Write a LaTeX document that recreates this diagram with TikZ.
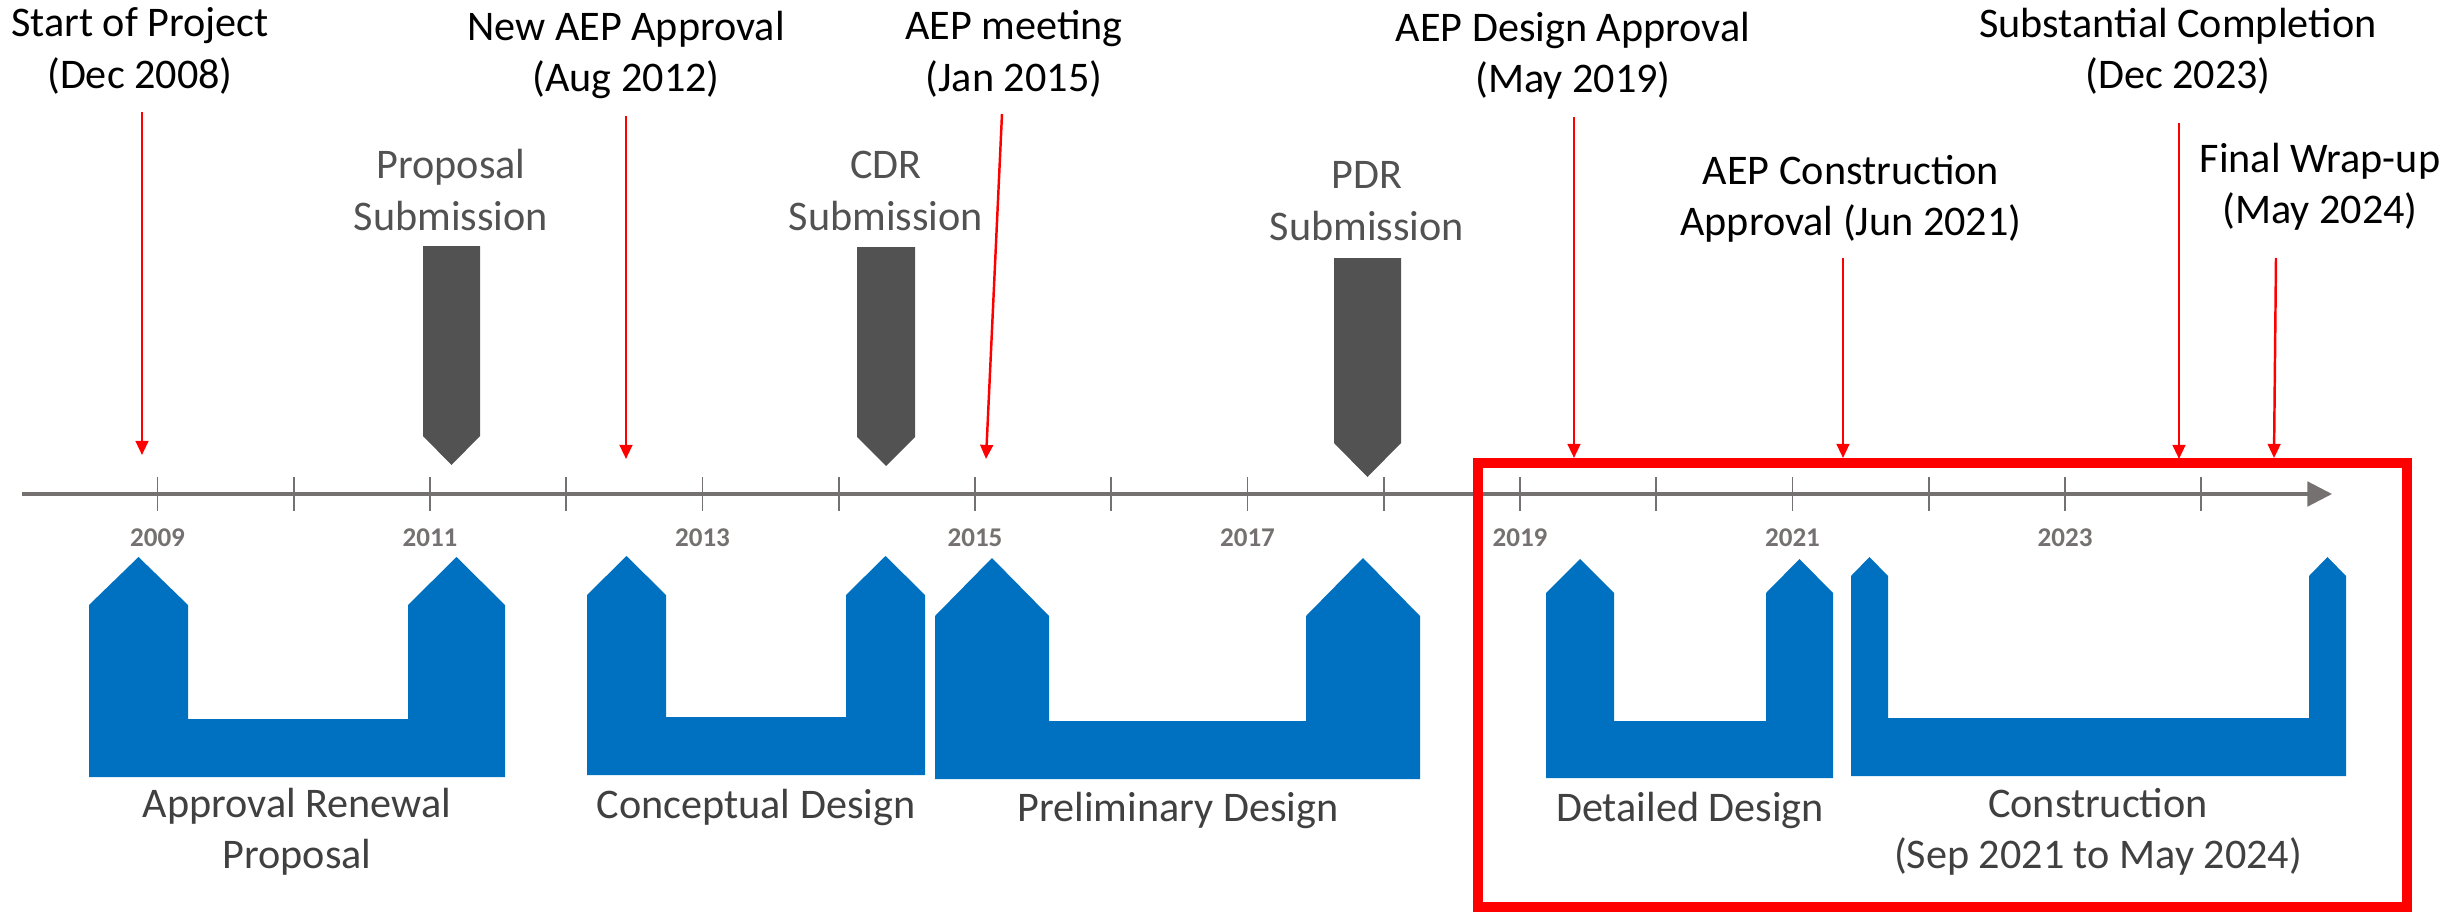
\documentclass[tikz,border=0pt]{standalone}
\usepackage{fontspec}
\setmainfont{Carlito}
\usetikzlibrary{arrows.meta,positioning}

\definecolor{tlblue}{HTML}{0070C0}
\definecolor{tlgray}{HTML}{767171}
\definecolor{msgray}{HTML}{525252}
\definecolor{lblgray}{HTML}{404040}

\begin{document}
\begin{tikzpicture}[x=0.01cm, y=-0.01cm,
  event/.style={align=center, font=\fontsize{12pt}{14.6pt}\selectfont, inner sep=0pt},
  submit/.style={event, text=msgray},
  phase/.style={event, text=lblgray},
  year/.style={font=\fontsize{7.7pt}{9pt}\selectfont\bfseries, text=tlgray, inner sep=0pt},
  redarrow/.style={red, line width=0.7pt, -{Triangle[length=4pt, width=3.6pt]}}]
\useasboundingbox (0,0) rectangle (2453,912);

% time axis
\coordinate (t0) at (22,494);
\coordinate (t1) at (2332,494);
\draw[tlgray, line width=0.9pt, -{Triangle[length=7pt, width=7pt]}] (t0) -- (t1);
\foreach \i in {0,...,15}
  \draw[tlgray, line width=0.5pt] ({157.5+136.25*\i},477) -- ({157.5+136.25*\i},511);
\foreach \yr in {2009,2011,...,2023}
  \node[year] (y\yr) at ({157.5+136.25*(\yr-2009)},538) {\yr};

% submissions
\foreach \xa/\xb/\ytop/\ybody/\ytip in {423/480/246/436/465, 857/915/247/437/466, 1334/1401/258/443/477}
  \fill[msgray] (\xa,\ytop) -- (\xb,\ytop) -- (\xb,\ybody) -- ({(\xa+\xb)/2},\ytip) -- (\xa,\ybody) -- cycle;
\node[submit] (prop) at (451,190) {Proposal\\Submission};
\node[submit] (cdr) at (886,191) {CDR\\Submission};
\node[submit] (pdr) at (1367,201) {PDR\\Submission};

% phases
\foreach \xa/\xb/\xc/\xd/\ytip/\ysh/\ybar/\ybot in {89/188/408/505/557/605/719/777, 587/666/846/925/556/595/717/775,
    935/1049/1306/1420/558/616/721/779, 1546/1614/1766/1833/559/593/721/778, 1851/1888/2309/2346/557/576/718/776}
  \fill[tlblue] (\xa,\ybot) -- (\xa,\ysh) -- ({(\xa+\xb)/2},\ytip) -- (\xb,\ysh) -- (\xb,\ybar) -- (\xc,\ybar)
    -- (\xc,\ysh) -- ({(\xc+\xd)/2},\ytip) -- (\xd,\ysh) -- (\xd,\ybot) -- cycle;
\node[phase] (renew) at (297,832) {Approval Renewal\\Proposal};
\node[phase] (concept) at (756,807) {Conceptual Design};
\node[phase] (prelim) at (1178,810) {Preliminary Design};
\node[phase] (detail) at (1690,810) {Detailed Design};
\node[phase] (constr) at (2098,832) {Construction\\(Sep 2021 to May 2024)};

% focus box
\draw[red, line width=2.85pt] (1478,463) rectangle (2407,907);

% events
\node[event] (start) at (140,51) {Start of Project\\(Dec 2008)};
\node[event] (newaep) at (626,55) {New AEP Approval\\(Aug 2012)};
\node[event] (meet) at (1014,54) {AEP meeting\\(Jan 2015)};
\node[event] (dapp) at (1573,56) {AEP Design Approval\\(May 2019)};
\node[event] (capp) at (1851,199) {AEP Construction\\Approval (Jun 2021)};
\node[event] (compl) at (2178,51) {Substantial Completion\\(Dec 2023)};
\node[event] (wrap) at (2320,187) {Final Wrap-up\\(May 2024)};
\foreach \n/\xa/\ya/\xb/\yb in {start/142/112/142/455, newaep/626/116/626/459, meet/1002/114/986/459,
    dapp/1574/117/1574/458, capp/1843/258/1843/458, compl/2179/123/2179/459, wrap/2276/258/2274/458}
{
  \coordinate (\n-a) at (\xa,\ya);
  \coordinate (\n-b) at (\xb,\yb);
  \draw[redarrow] (\n-a) -- (\n-b);
}
\end{tikzpicture}
\end{document}
